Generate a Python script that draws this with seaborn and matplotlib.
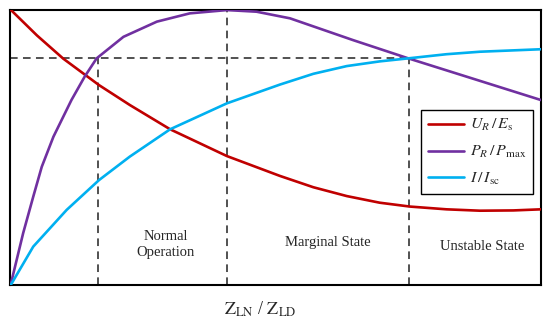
import numpy as np
import pandas as pd
import seaborn as sns
from matplotlib import pyplot as plt

# curves (normalised Z_LN / Z_LD on x, per-unit on y)
ur_x = [0.0, 0.050, 0.0995, 0.167, 0.225, 0.301, 0.408, 0.508, 0.571, 0.634, 0.696, 0.753, 0.822,
        0.885, 0.948, 1.0]
ur_y = [1.0, 0.906, 0.822, 0.726, 0.654, 0.566, 0.469, 0.397, 0.356, 0.324, 0.300, 0.286, 0.276,
        0.271, 0.272, 0.276]

pr_x = [0.0, 0.024, 0.043, 0.059, 0.081, 0.115, 0.140, 0.1625, 0.213, 0.276, 0.338, 0.408, 0.464,
        0.527, 0.646, 0.750, 1.0]
pr_y = [0.0, 0.190, 0.322, 0.430, 0.539, 0.672, 0.757, 0.823, 0.901, 0.956, 0.986, 0.998, 0.992,
        0.968, 0.889, 0.823, 0.672]

i_x = [0.0, 0.043, 0.106, 0.167, 0.225, 0.301, 0.408, 0.508, 0.571, 0.634, 0.696, 0.750, 0.822,
       0.885, 1.0]
i_y = [0.0, 0.141, 0.274, 0.382, 0.467, 0.566, 0.660, 0.728, 0.767, 0.795, 0.812, 0.823, 0.838,
       0.847, 0.856]

labels = [r'$U_R\,/\,E_{\rm s}$', r'$P_R\,/\,P_{\rm max}$', r'$I\,/\,I_{\rm sc}$']
colors = ['#C00000', '#7030A0', '#00B0F0']

# region boundaries and the operating level
bounds = [0.165, 0.408, 0.752]
level = 0.823
regions = ['Normal\nOperation', 'Marginal State', 'Unstable State']
region_x = [0.293, 0.599, 0.889]
region_y = [0.150, 0.155, 0.143]

df = pd.concat([
    pd.DataFrame({'x': ur_x, 'y': ur_y, 'curve': labels[0]}),
    pd.DataFrame({'x': pr_x, 'y': pr_y, 'curve': labels[1]}),
    pd.DataFrame({'x': i_x, 'y': i_y, 'curve': labels[2]}),
], ignore_index=True)

sns.set_style('white')
plt.rcParams['font.family'] = ['Liberation Serif', 'DejaVu Serif']
plt.rcParams['mathtext.fontset'] = 'stix'

fig = plt.figure(figsize=(5.5, 3.21), dpi=100)
ax = fig.add_axes([0.019, 0.1106, 0.9645, 0.8598])

dash = dict(color='#222222', lw=1.1, ls=(0, (5, 3.5)), zorder=1)
ax.plot([0, bounds[2]], [level, level], **dash)
ax.plot([bounds[0], bounds[0]], [0, level], **dash)
ax.plot([bounds[1], bounds[1]], [0, 1], **dash)
ax.plot([bounds[2], bounds[2]], [0, level], **dash)

sns.lineplot(data=df, x='x', y='y', hue='curve', palette=colors, hue_order=labels,
             lw=1.9, ax=ax, zorder=3)

for txt, tx, ty in zip(regions, region_x, region_y):
    ax.text(tx, ty, txt, ha='center', va='center', fontsize=10.5, linespacing=1.3)

ax.set_xlim(0, 1)
ax.set_ylim(0, 1)
ax.set_xticks([])
ax.set_yticks([])
ax.set_xlabel('')
ax.set_ylabel('')
for s in ax.spines.values():
    s.set_color('black')
    s.set_linewidth(1.5)

leg = ax.legend(loc='upper right', bbox_to_anchor=(0.9855, 0.636), borderaxespad=0, fontsize=11.5,
                handlelength=2.25, handletextpad=0.35, labelspacing=0.68, borderpad=0.45,
                fancybox=False, framealpha=1, edgecolor='black')
leg.get_frame().set_linewidth(1.0)
leg.set_title(None)

fig.text(0.473, 0.036, r'$\mathrm{Z}_{\mathrm{LN}}$ / $\mathrm{Z}_{\mathrm{LD}}$', ha='center', va='center',
         fontsize=13)

fig.savefig('out.png', dpi=100)
